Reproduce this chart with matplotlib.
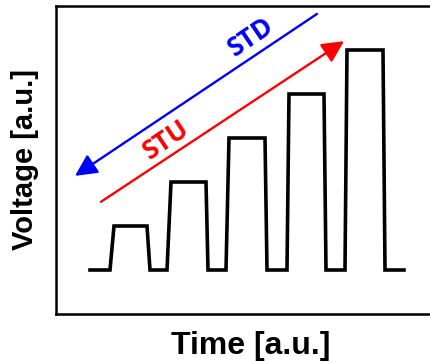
"""
Schematic of staircase pulse train (STU / STD sweep directions).
"""

import matplotlib
matplotlib.use("Agg")
import matplotlib.pyplot as plt

# pulse train: time (a.u.) and voltage level (a.u.)
TIME = [34, 54, 58, 91, 94, 111, 115, 150, 152, 170, 173, 209, 211,
        231, 233, 268, 270, 289, 291, 327, 329, 348]
VOLTAGE = [0, 0, 1, 1, 0, 0, 2, 2, 0, 0, 3, 3, 0,
           0, 4, 4, 0, 0, 5, 5, 0, 0]

# sweep arrows: (tail, head)
STD_ARROW = ((261, 5.82), (19, 2.14))
STU_ARROW = ((45, 1.55), (288, 5.20))
STD_LABEL = ("STD", 195, 5.30)
STU_LABEL = ("STU", 110, 2.95)


def main() -> None:
    plt.rcParams.update({
        "font.family": "sans-serif",
        "font.sans-serif": ["Liberation Sans", "DejaVu Sans"],
    })
    W, H = 431, 364
    fig = plt.figure(figsize=(W / 100, H / 100), dpi=100)
    fig.patch.set_facecolor("white")
    ax = fig.add_axes([56 / W, (H - 314) / H, (445 - 56) / W, (314 - 6) / H])

    ax.plot(TIME, VOLTAGE, color="black", lw=2.6, solid_joinstyle="miter")

    for (tail, head), color in ((STD_ARROW, "blue"), (STU_ARROW, "red")):
        ax.annotate("", xy=head, xytext=tail,
                    arrowprops=dict(arrowstyle="-|>,head_length=0.6,head_width=0.3",
                                    color=color, lw=1.7,
                                    mutation_scale=22, shrinkA=0, shrinkB=0))

    for (txt, x, y), color in ((STD_LABEL, "blue"), (STU_LABEL, "red")):
        ax.text(x, y, txt, color=color, fontsize=19, fontweight="bold",
                family=["Open Sans", "DejaVu Sans"], rotation=34,
                rotation_mode="anchor", ha="center", va="center")

    ax.set_xlim(0, 389)
    ax.set_ylim(-1.0, 6.0)
    ax.set_xticks([])
    ax.set_yticks([])
    for sp in ax.spines.values():
        sp.set_linewidth(1.8)
    ax.spines["right"].set_visible(False)

    ax.set_xlabel("Time [a.u.]", fontsize=23, fontweight="bold", labelpad=12)
    ax.set_ylabel("Voltage [a.u.]", fontsize=21, fontweight="bold", labelpad=12)

    fig.savefig("out.png", dpi=100, facecolor="white")
    plt.close(fig)


if __name__ == "__main__":
    main()
